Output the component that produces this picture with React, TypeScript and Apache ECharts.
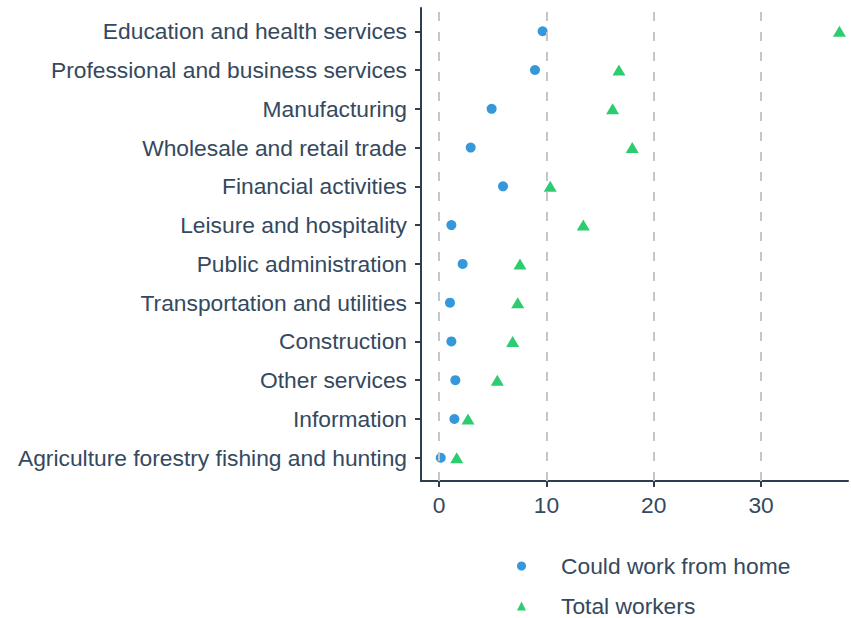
import React, { useEffect, useRef } from "react";
import * as echarts from "echarts";

const categories = [
  "Agriculture forestry fishing and hunting",
  "Information",
  "Other services",
  "Construction",
  "Transportation and utilities",
  "Public administration",
  "Leisure and hospitality",
  "Financial activities",
  "Wholesale and retail trade",
  "Manufacturing",
  "Professional and business services",
  "Education and health services",
];
const couldWorkFromHome = [0.16, 1.43, 1.52, 1.15, 1.02, 2.2, 1.15, 5.96, 2.95, 4.9, 8.94, 9.65];
const totalWorkers = [1.65, 2.7, 5.43, 6.86, 7.33, 7.54, 13.44, 10.36, 18.0, 16.17, 16.76, 37.3];
const xTicks = [0, 10, 20, 30];
const seriesNames = ["Could work from home", "Total workers"];
const legendIcons = ["circle", "triangle"];

const BLUE = "#3498db";
const GREEN = "#2ecc71";
const AXIS = "#2c3e50";
const TEXT = "#34495e";
const FONT = "'Liberation Sans', Arial, Helvetica, sans-serif";
const FS = 22.8;

export default function App() {
  const ref = useRef<HTMLDivElement>(null);
  useEffect(() => {
    if (!ref.current) return;
    const chart = echarts.init(ref.current, undefined, { renderer: "svg" });
    const catIdx = categories.map((_, i) => i);
    chart.setOption({
      animation: false,
      backgroundColor: "#ffffff",
      textStyle: { fontFamily: FONT },
      grid: { left: 421, right: 3, top: 8, bottom: 137, containLabel: false },
      xAxis: {
        type: "value",
        min: -1.68,
        max: 38.1,
        axisLine: { show: true, onZero: false, lineStyle: { color: AXIS, width: 2 } },
        axisTick: { show: true, customValues: xTicks, length: 6, lineStyle: { color: AXIS, width: 2 } },
        axisLabel: { customValues: xTicks, fontSize: FS, color: TEXT, margin: 12, fontFamily: FONT },
        splitLine: { show: false },
      },
      yAxis: {
        type: "value",
        min: -0.6,
        max: 11.6,
        axisLine: { show: true, onZero: false, lineStyle: { color: AXIS, width: 2 } },
        axisTick: { show: true, customValues: catIdx, length: 6, lineStyle: { color: AXIS, width: 2 } },
        axisLabel: {
          customValues: catIdx,
          fontSize: FS,
          color: TEXT,
          margin: 14,
          fontFamily: FONT,
          formatter: (v: number) => categories[Math.round(v)] ?? "",
        },
        splitLine: { show: false },
      },
      legend: seriesNames.map((name, i) => ({
        orient: "vertical",
        left: 517,
        top: 554 + i * 40,
        padding: 0,
        itemWidth: 9,
        itemHeight: 9,
        textStyle: { fontSize: FS, color: TEXT, lineHeight: 24, padding: [0, 0, 0, 30], fontFamily: FONT },
        data: [{ name, icon: legendIcons[i] }],
      })),
      series: [
        {
          name: "grid",
          type: "scatter",
          data: [],
          z: 1,
          silent: true,
          markLine: {
            silent: true,
            animation: false,
            symbol: ["none", "none"],
            label: { show: false },
            lineStyle: { color: "#c3c7cb", width: 2, type: [9, 11] },
            emphasis: { disabled: true },
            data: xTicks.map((v) => ({ xAxis: v })),
          },
        },
        {
          name: seriesNames[0],
          type: "scatter",
          symbol: "circle",
          symbolSize: 10,
          z: 3,
          itemStyle: { color: BLUE, opacity: 1 },
          data: couldWorkFromHome.map((v, i) => [v, i]),
        },
        {
          name: seriesNames[1],
          type: "scatter",
          symbol: "triangle",
          symbolSize: [13, 11],
          z: 3,
          itemStyle: { color: GREEN, opacity: 1 },
          data: totalWorkers.map((v, i) => [v, i]),
        },
      ],
    });
    return () => chart.dispose();
  }, []);
  return (
    <div
      ref={ref}
      style={{ position: "fixed", left: 0, top: 0, width: 851, height: 618, background: "#fff" }}
    />
  );
}
